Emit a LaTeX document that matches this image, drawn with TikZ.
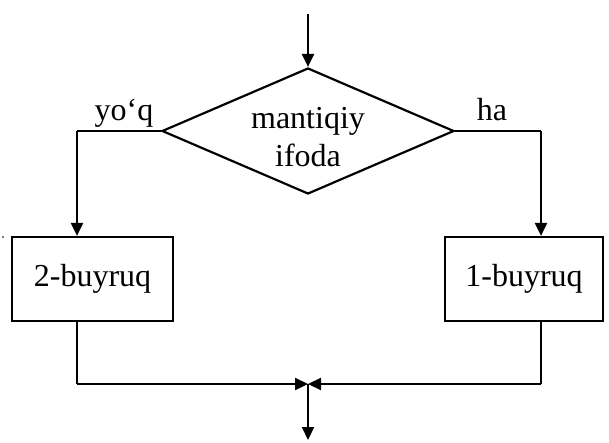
\documentclass[tikz,border=0pt]{standalone}
\usepackage{fontspec}
\setmainfont{Liberation Serif}
\usetikzlibrary{shapes.geometric,arrows.meta}
\begin{document}
\begin{tikzpicture}[x=1pt,y=-1pt,
  font=\fontsize{32}{38}\selectfont,
  line/.style={line width=2.2pt},
  arr/.style={line width=2.2pt,-{Triangle[length=13pt,width=12pt]}},
  decision/.style={diamond,draw,line width=2.2pt,minimum width=292pt,minimum height=126pt,inner sep=0pt,align=center},
  box/.style={draw,line width=2.2pt,inner sep=0pt},
  lbl/.style={inner sep=0pt,anchor=base}]
\useasboundingbox (0,0) rectangle (609,443);
\node[decision] (d) at (308,131) {};
\node[align=center,inner sep=0pt] (dt) at (308,137) {mantiqiy\\ifoda};
\node[box,minimum width=161pt,minimum height=84pt] (b2) at (92.5,279) {2-buyruq};
\node[box,minimum width=158pt,minimum height=84pt] (b1) at (524,279) {1-buyruq};
\coordinate (top) at (308,14);
\coordinate (lc) at (77,131);
\coordinate (rc) at (541,131);
\coordinate (lb) at (77,384);
\coordinate (rb) at (541,384);
\coordinate (j) at (308,384);
\coordinate (end) at (308,440);
\draw[arr] (top) -- (d.north);
\draw[line] (d.west) -- (lc);
\draw[arr] (lc) -- (lc |- b2.north);
\draw[line] (d.east) -- (rc);
\draw[arr] (rc) -- (rc |- b1.north);
\draw[line] (lc |- b2.south) -- (lb);
\draw[arr] (lb) -- (j);
\draw[line] (rc |- b1.south) -- (rb);
\draw[arr] (rb) -- (j);
\draw[arr] (j) -- (end);
\node[lbl] (no) at (124,121) {yo‘q};
\node[lbl] (yes) at (492,121) {ha};
\fill (3,237) circle (0.8pt);
\end{tikzpicture}
\end{document}
